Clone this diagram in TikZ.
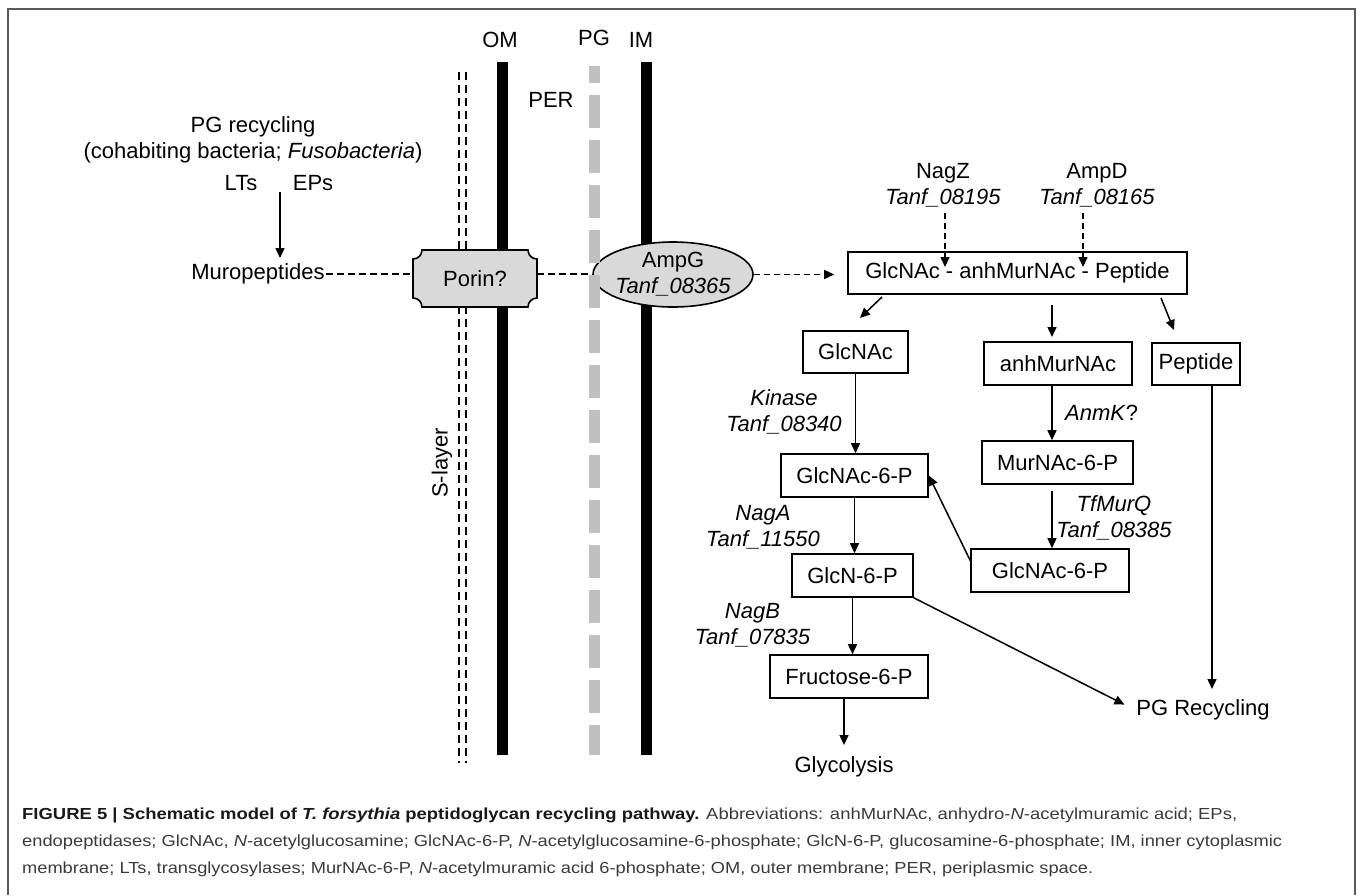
\documentclass[tikz,border=0pt]{standalone}
\usepackage{fontspec}
\setmainfont{Liberation Sans}
\usepackage{graphicx}
\usetikzlibrary{arrows.meta,shapes.geometric,calc}
\definecolor{pggray}{HTML}{C0C0C0}
\definecolor{fillgray}{HTML}{D9D9D9}
\definecolor{framegray}{HTML}{5A5A5A}
\definecolor{capgray}{HTML}{3A3A3A}
\begin{document}
\begin{tikzpicture}[x=1pt,y=-1pt,
  lab/.style={font=\fontsize{22}{26}\selectfont, inner sep=0pt, align=center},
  box/.style={draw, line width=1.6pt, inner sep=0pt, font=\fontsize{22}{26}\selectfont, minimum height=43pt},
  arr/.style={line width=1.5pt, -{Triangle[length=10pt,width=9pt]}},
  darr/.style={line width=1.5pt, dash pattern=on 6pt off 4pt, -{Triangle[length=10pt,width=9pt]}},
  dline/.style={line width=1.5pt, dash pattern=on 7pt off 4pt},
  membrane/.style={line width=11pt},
  sline/.style={line width=1.4pt, dash pattern=on 8pt off 5pt},
  frameline/.style={framegray, line width=2pt},
  capline/.style={anchor=base west, inner sep=0pt, text=capgray, font=\fontsize{16}{19}\selectfont}
]
\useasboundingbox (0,0) rectangle (1358,895);
% frame
\draw[frameline] (8,895) -- (8,8.5) -- (1355,8.5) -- (1355,895);

% membranes
\draw[sline] (459,72) -- (459,763);
\draw[sline] (466,72) -- (466,763);
\draw[membrane] (502,62) -- (502,755);
\draw[membrane] (646,62) -- (646,755);

\node[lab] (om) at (500,40) {OM};
\node[lab] (pg) at (594,38) {PG};
\node[lab] (im) at (641,40) {IM};
\node[lab] (per) at (551,100) {PER};
\node[lab, rotate=90] (slayer) at (442,463) {S-layer};

% left texts
\node[lab] (pgrecyc) at (253,139.5) {PG recycling\\(cohabiting bacteria; \textit{Fusobacteria})};
\node[lab] (lts) at (241,183) {LTs};
\node[lab] (eps) at (313,183) {EPs};
\node[lab, inner sep=1pt] (muro) at (258,274) {Muropeptides};
\coordinate (ltA) at (280,192);
\coordinate (ltB) at (280,258);
\draw[arr] (ltA) -- (ltB);

% porin
\draw[fill=fillgray, line width=1.6pt] (422,250) -- (528,250) .. controls (528,255) and (532,259) .. (537,259) -- (537,298) .. controls (532,298) and (528,302) .. (528,307) -- (422,307) .. controls (422,302) and (418,298) .. (413,298) -- (413,259) .. controls (418,259) and (422,255) .. (422,250) -- cycle;
\node[lab, minimum width=124pt, minimum height=57pt] (porin) at (475,278.5) {Porin?};

% AmpG
\node[ellipse, draw, fill=fillgray, line width=1.6pt, minimum width=160pt, minimum height=65pt, inner sep=0pt] (ampg) at (673,274.5) {};
\node[lab] (ampgtxt) at (ampg.center) {AmpG\\\textit{Tanf\_08365}};

% PG layer dashes (drawn over)
\draw[pggray, line width=11pt, dash pattern=on 33pt off 12pt, dash phase=16pt] (594,66) -- (594,755);

% dashed connectors
\draw[dline] (muro.east) -- (muro.east -| porin.west);
\draw[dline] (porin.east |- muro.east) -- (ampg.west |- muro.east);

% right pathway boxes
\node[box, minimum width=339pt, minimum height=42pt] (main) at (1017.5,273) {GlcNAc - anhMurNAc - Peptide};
\node[box, minimum width=105pt, minimum height=42pt] (glcnac) at (855.5,352) {GlcNAc};
\node[box, minimum width=148pt] (anhmur) at (1058,363.5) {anhMurNAc};
\node[box, minimum width=88pt, minimum height=42pt] (peptide) at (1196,364) {Peptide};
\node[box, minimum width=147pt] (gnac6L) at (854.5,475.5) {GlcNAc-6-P};
\node[box, minimum width=151pt] (murnac) at (1057.5,462.5) {MurNAc-6-P};
\node[box, minimum width=121pt] (glcn6p) at (852.5,575.5) {GlcN-6-P};
\node[box, minimum width=158pt] (gnac6R) at (1050,570.5) {GlcNAc-6-P};
\node[box, minimum width=158pt] (fruc) at (849,676.5) {Fructose-6-P};
\node[lab] (glyco) at (844,767) {Glycolysis};
\node[lab, inner sep=1pt] (pgrec) at (1203,710) {PG Recycling};

\draw[darr, shorten >=13pt] (ampg.east) -- (ampg.east -| main.west);

% enzyme labels
\node[lab] (nagz) at (943,185) {NagZ\\\textit{Tanf\_08195}};
\node[lab] (ampd) at (1097,185) {AmpD\\\textit{Tanf\_08165}};
\node[lab] (kinase) at (784,411.5) {\textit{Kinase}\\\textit{Tanf\_08340}};
\node[lab] (naga) at (763,527.5) {\textit{NagA}\\\textit{Tanf\_11550}};
\node[lab] (nagb) at (752.5,625) {\textit{NagB}\\\textit{Tanf\_07835}};
\node[lab, anchor=west] (anmk) at (1065,413) {\textit{AnmK}?};
\node[lab] (murq) at (1114,517.5) {\textit{TfMurQ}\\\textit{Tanf\_08385}};

\coordinate (nzA) at (945,213);
\coordinate (nzB) at (945,267);
\coordinate (adA) at (1083,213);
\coordinate (adB) at (1083,267);
\draw[darr] (nzA) -- (nzB);
\draw[darr] (adA) -- (adB);

% arrows from main box
\coordinate (m1A) at (882,297);
\coordinate (m1B) at (860,318);
\coordinate (m2A) at (1052,305);
\coordinate (m2B) at (1052,337);
\coordinate (m3A) at (1161,298);
\coordinate (m3B) at (1174,330);
\draw[arr] (m1A) -- (m1B);
\draw[arr] (m2A) -- (m2B);
\draw[arr] (m3A) -- (m3B);

\draw[arr] (glcnac.south) -- (glcnac.south |- gnac6L.north);
\draw[arr] (gnac6L.south) -- (gnac6L.south |- glcn6p.north);
\draw[arr] (glcn6p.south) -- (glcn6p.south |- fruc.north);
\coordinate (glyA) at (844,745);
\draw[arr] (fruc.south -| glyA) -- (glyA);
\draw[arr] (anhmur.south -| m2A) -- (m2A |- murnac.north);
\draw[arr, shorten <=6pt] (murnac.south -| m2A) -- (m2A |- gnac6R.north);
\draw[arr] ([yshift=10pt]gnac6R.west) -- (gnac6L.east);
\draw[arr, shorten >=12pt] (glcn6p.south east) -- (pgrec.west);
\coordinate (pepB) at (1212,689);
\draw[arr] (peptide.south -| pepB) -- (pepB);

% caption
\node[capline] (cap1) at (22,819) {\resizebox{1215pt}{\height}{{\color{black!90}\bfseries FIGURE 5 | Schematic model of \textit{T. forsythia} peptidoglycan recycling pathway.} Abbreviations: anhMurNAc, anhydro-\textit{N}-acetylmuramic acid; EPs,}};
\node[capline] (cap2) at (22,846) {\resizebox{1260pt}{\height}{endopeptidases; GlcNAc, \textit{N}-acetylglucosamine; GlcNAc-6-P, \textit{N}-acetylglucosamine-6-phosphate; GlcN-6-P, glucosamine-6-phosphate; IM, inner cytoplasmic}};
\node[capline] (cap3) at (22,873) {\resizebox{1071pt}{\height}{membrane; LTs, transglycosylases; MurNAc-6-P, \textit{N}-acetylmuramic acid 6-phosphate; OM, outer membrane; PER, periplasmic space.}};
\end{tikzpicture}
\end{document}
